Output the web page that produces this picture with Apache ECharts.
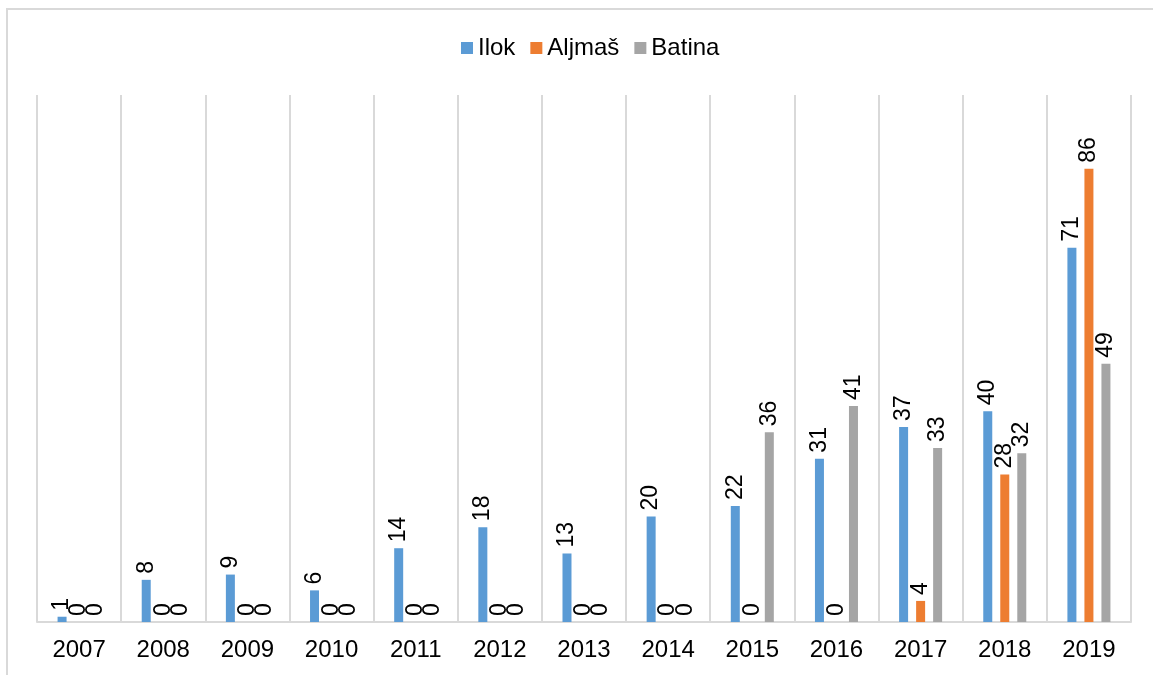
<!DOCTYPE html>
<html>
<head>
<meta charset="utf-8">
<script src="https://cdn.jsdelivr.net/npm/echarts@6/dist/echarts.min.js"></script>
<style>
html,body{margin:0;padding:0;background:#fff;width:1153px;height:675px;overflow:hidden;}
#frame{position:absolute;left:6px;top:8px;width:1160px;height:680px;border:2px solid #d9d9d9;box-sizing:border-box;}
#chart{position:absolute;left:0;top:0;width:1153px;height:675px;}
</style>
</head>
<body>
<div id="frame"></div>
<div id="chart"></div>
<script>
const years = ['2007','2008','2009','2010','2011','2012','2013','2014','2015','2016','2017','2018','2019'];
const ilok = [1,8,9,6,14,18,13,20,22,31,37,40,71];
const aljmas = [0,0,0,0,0,0,0,0,0,0,4,28,86];
const batina = [0,0,0,0,0,0,0,0,36,41,33,32,49];

const font = '"Liberation Sans", Arial, sans-serif';
const label = {show:true, position:'top', rotate:90, align:'left', verticalAlign:'middle', distance:6, color:'#000', fontSize:23, fontFamily:font};
function s(name, data, color){
  return {name, type:'bar', data, barWidth:9, barGap:'89%', itemStyle:{color}, label, animation:false};
}
const chart = echarts.init(document.getElementById('chart'));
chart.setOption({
  animation:false,
  legend:{top:31, left:456, itemWidth:12, itemHeight:12, itemGap:15, icon:'rect',
    textStyle:{fontSize:24, color:'#000', fontFamily:font}, data:['Ilok','Aljmaš','Batina']},
  grid:{left:37, right:22, top:95, bottom:53},
  xAxis:{type:'category', data:years,
    axisLine:{lineStyle:{color:'#d9d9d9', width:2}}, axisTick:{show:false},
    splitLine:{show:true, lineStyle:{color:'#d9d9d9', width:2}},
    axisLabel:{color:'#000', fontSize:24, fontFamily:font, margin:16}},
  yAxis:{type:'value', min:0, max:100, show:false, splitLine:{show:false}},
  series:[s('Ilok', ilok, '#5b9bd5'), s('Aljmaš', aljmas, '#ed7d31'), s('Batina', batina, '#a5a5a5')]
});
</script>
</body>
</html>
